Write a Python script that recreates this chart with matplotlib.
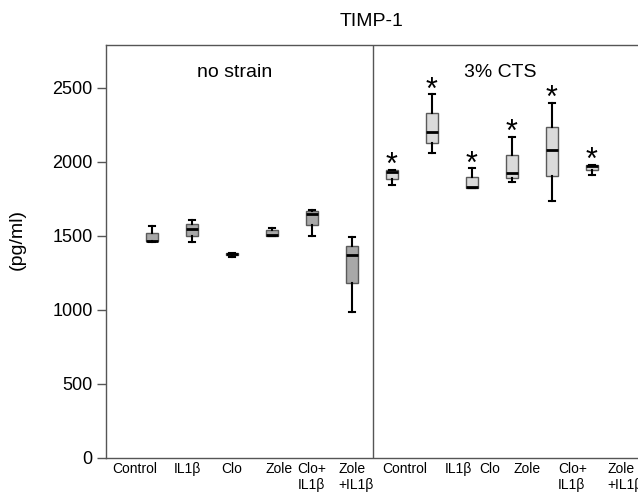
"""TIMP-1 box plot: no strain vs 3% CTS."""
import matplotlib
matplotlib.use('Agg')
import matplotlib.pyplot as plt

plt.rcParams['font.family'] = ['Liberation Sans', 'DejaVu Sans']

# Data (pg/ml)
positions = list(range(12))
labels = ["Control", "IL1β", "Clo", "Zole", "Clo+\nIL1β", "Zole\n+IL1β"] * 2
label_pos = [-0.43, 0.89, 1.99, 3.17, 4.0, 5.11, 6.33, 7.66, 8.43, 9.37, 10.51, 11.83]

whislo = [1462, 1457, 1358, 1500, 1500, 989, 1845, 2059, 1822, 1863, 1737, 1912]
q1 = [1465, 1500, 1368, 1502, 1575, 1180, 1885, 2131, 1824, 1894, 1908, 1946]
med = [1468, 1547, 1377, 1508, 1650, 1368, 1935, 2201, 1830, 1928, 2081, 1974]
q3 = [1518, 1579, 1385, 1541, 1667, 1430, 1946, 2329, 1897, 2045, 2235, 1980]
whishi = [1570, 1608, 1388, 1556, 1672, 1495, 1946, 2457, 1957, 2167, 2401, 1980]
significant = [False] * 6 + [True] * 6
group = ["no strain"] * 6 + ["3% CTS"] * 6

# Styles
FILL = {"no strain": '#a8a8a8', "3% CTS": '#dadada'}
EDGE = '#5a5a5a'
SPINE = '#555555'

fig = plt.figure(figsize=(6.38, 4.92), dpi=100)
ax = fig.add_axes([106 / 638, 34 / 492, 532 / 638, 413 / 492])

stats = []
for i in range(len(positions)):
    stats.append(dict(whislo=whislo[i], q1=q1[i], med=med[i], q3=q3[i],
                      whishi=whishi[i], fliers=[]))

bp = ax.bxp(stats, positions=positions, widths=0.28, patch_artist=True,
            showfliers=False, capwidths=0.13,
            boxprops=dict(edgecolor=EDGE, linewidth=1.0),
            whiskerprops=dict(color='black', linewidth=1.5),
            capprops=dict(color='black', linewidth=1.5),
            medianprops=dict(color='black', linewidth=2.0))
for patch, g in zip(bp['boxes'], group):
    patch.set_facecolor(FILL[g])

# significance stars
for x, top, sig in zip(positions, whishi, significant):
    if sig:
        ax.annotate("*", (x, top), xytext=(0, -3), textcoords='offset points',
                    ha='center', va='baseline', fontsize=22)

# panel divider
ax.axvline(5.53, color=SPINE, linewidth=1.0)

ax.set_xlim(-1.15, 12.15)
ax.set_ylim(0, 2790)
ax.set_yticks([0, 500, 1000, 1500, 2000, 2500])
ax.tick_params(axis='y', labelsize=13, length=6.5, width=1, color=SPINE, pad=3)
ax.set_xticks(label_pos)
ax.set_xticklabels(labels, fontsize=10, linespacing=1.2)
for t in ax.get_xticklabels():
    t.set_multialignment('left')
ax.tick_params(axis='x', length=0, pad=3)

for side in ['left', 'top', 'bottom']:
    ax.spines[side].set_color(SPINE)
    ax.spines[side].set_linewidth(1.0)
ax.spines['right'].set_visible(False)

ax.set_ylabel("(pg/ml)", fontsize=14, va='center')
ax.yaxis.set_label_coords(-0.167, 0.53)

ax.text(0.2415, 0.9346, "no strain", transform=ax.transAxes,
        ha='center', va='center', fontsize=14)
ax.text(0.7415, 0.9346, "3% CTS", transform=ax.transAxes,
        ha='center', va='center', fontsize=14)

fig.text(372 / 638, 1 - 22 / 492, "TIMP-1", ha='center', va='center', fontsize=14)

fig.savefig("out.png", dpi=100)
